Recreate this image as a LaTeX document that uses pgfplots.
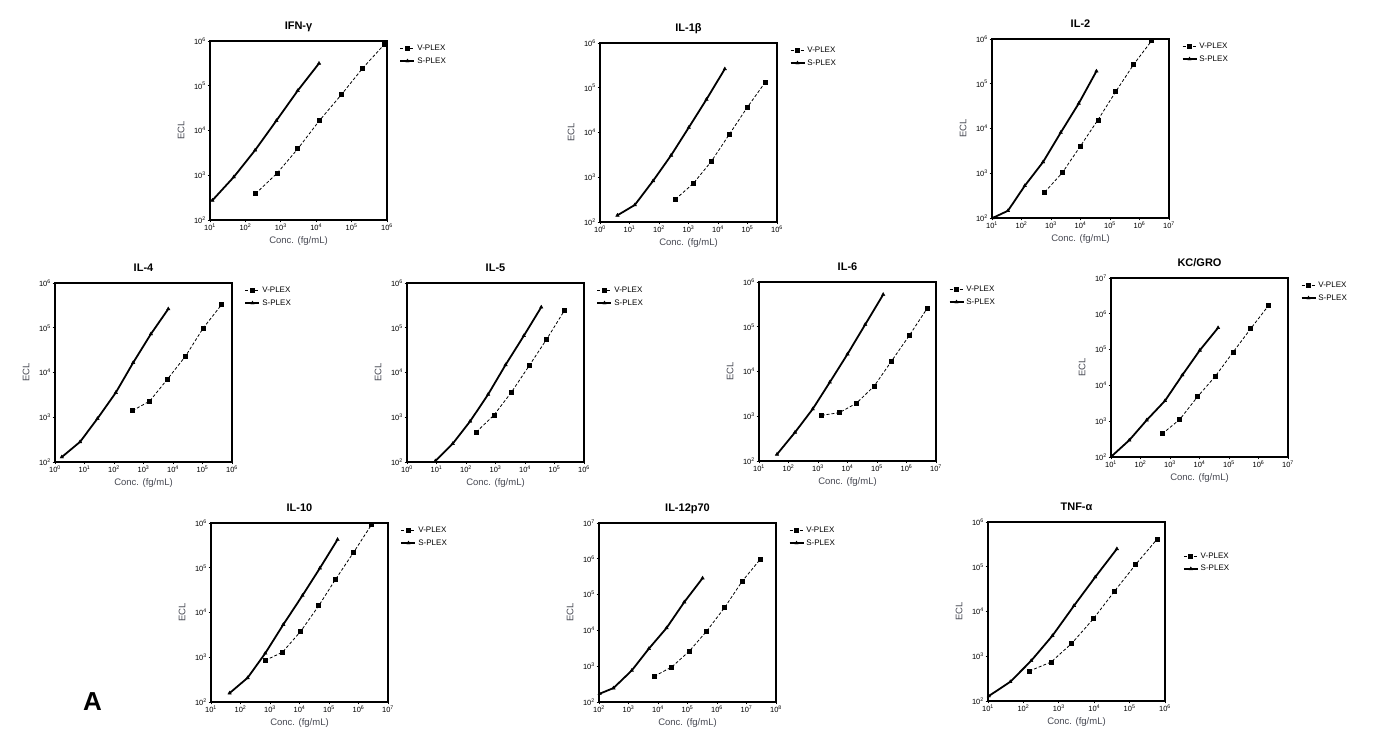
\documentclass[border=0pt]{standalone}
\usepackage{fontspec}
\setmainfont{Liberation Sans}
\usepackage{pgfplots}
\pgfplotsset{compat=1.18}
\newcommand{\E}[1]{10\textsuperscript{#1}}
\definecolor{lab}{RGB}{70,72,82}
\pgfplotsset{
 panel/.style={scale only axis, width=177pt, height=179pt,
  xminorticks=false, yminorticks=false, tick align=outside, tick pos=left,
  major tick length=2.5pt, axis line style={line width=1.2pt},
  every tick/.style={black, line width=0.8pt},
  tick label style={font=\fontsize{7.5}{7.5}\selectfont, inner sep=1.5pt},
  xlabel={Conc. (fg/mL)}, ylabel={ECL},
  every axis x label/.style={at={(axis description cs:0.5,0)},anchor=base,yshift=-24pt,font=\fontsize{9.5}{10}\selectfont,text=lab},
  every axis y label/.style={at={(axis description cs:-0.145,0.5)},rotate=90,anchor=base,font=\fontsize{9.5}{10}\selectfont,text=lab},
  title style={font=\bfseries\fontsize{11}{11}\selectfont, at={(axis description cs:0.5,1)}, anchor=base, yshift=5pt},
  clip=false, legend cell align=left,
  legend style={draw=none, fill=none, font=\fontsize{8}{9}\selectfont, anchor=north west, at={(axis description cs:1.07,0.99)}, inner sep=0pt, row sep=1.5pt},
  legend image code/.code={\draw[mark repeat=2,mark phase=2,##1] plot coordinates {(0pt,0pt) (7pt,0pt) (14pt,0pt)};},
 },
 yA/.style={ymin=1e2, ymax=1e6, ytick={1e2,1e3,1e4,1e5,1e6}, yticklabels={\E{2},\E{3},\E{4},\E{5},\E{6}}},
 yB/.style={ymin=1e2, ymax=1e7, ytick={1e2,1e3,1e4,1e5,1e6,1e7}, yticklabels={\E{2},\E{3},\E{4},\E{5},\E{6},\E{7}}},
 xA/.style={xmin=1e1, xmax=1e6, xtick={1e1,1e2,1e3,1e4,1e5,1e6}, xticklabels={\E{1},\E{2},\E{3},\E{4},\E{5},\E{6}}},
 xB/.style={xmin=1e0, xmax=1e6, xtick={1e0,1e1,1e2,1e3,1e4,1e5,1e6}, xticklabels={\E{0},\E{1},\E{2},\E{3},\E{4},\E{5},\E{6}}},
 xC/.style={xmin=1e1, xmax=1e7, xtick={1e1,1e2,1e3,1e4,1e5,1e6,1e7}, xticklabels={\E{1},\E{2},\E{3},\E{4},\E{5},\E{6},\E{7}}},
 xD/.style={xmin=1e2, xmax=1e8, xtick={1e2,1e3,1e4,1e5,1e6,1e7,1e8}, xticklabels={\E{2},\E{3},\E{4},\E{5},\E{6},\E{7},\E{8}}},
 vp/.style={black, line width=0.8pt, dash pattern=on 3pt off 2pt, mark=square*, mark size=2pt, mark options={solid}},
 sp/.style={black, line width=1.8pt, mark=triangle*, mark size=2pt, mark options={solid, line width=0.4pt}},
}
\begin{document}
\begin{tikzpicture}[x=1pt,y=1pt]
\useasboundingbox (0,0) rectangle (1381,749);
% IFN-gamma
\begin{loglogaxis}[panel, xA, yA, at={(210pt,529pt)}, anchor=south west, title={IFN-γ}]
\addplot[vp] coordinates {(195,389) (776,1100) (3020,3890) (12300,16600) (51300,63100) (204000,245000) (832000,832000)};
\addplot[sp] coordinates {(11.7,275) (46.9,912) (188,3630) (750,16600) (3000,77600) (12000,316000)};
\legend{V-PLEX,S-PLEX}
\end{loglogaxis}
% IL-1beta
\begin{loglogaxis}[panel, xB, yA, at={(600pt,527pt)}, anchor=south west, title={IL-1β}]
\addplot[vp] coordinates {(363,324) (1450,724) (5890,2240) (23700,8910) (95500,35500) (407000,135000)};
\addplot[sp] coordinates {(3.9,141) (15.1,240) (63.1,832) (257,3090) (1020,12900) (4070,55000) (17000,263000)};
\legend{V-PLEX,S-PLEX}
\end{loglogaxis}
% IL-2
\begin{loglogaxis}[panel, xC, yA, at={(992pt,531pt)}, anchor=south west, title={IL-2}]
\addplot[vp] coordinates {(617,380) (2400,1020) (9770,3980) (38900,15500) (155000,66100) (631000,269000) (2570000,912000)};
\addplot[sp] coordinates {(10.5,100) (34.7,145) (129,525) (537,1780) (2140,8130) (8710,36300) (34700,191000)};
\legend{V-PLEX,S-PLEX}
\end{loglogaxis}
% IL-4
\begin{loglogaxis}[panel, xB, yA, at={(55pt,287pt)}, anchor=south west, title={IL-4}]
\addplot[vp] coordinates {(427,1410) (1620,2290) (6460,7080) (26900,23400) (105000,97700) (437000,324000)};
\addplot[sp] coordinates {(1.7,129) (7.08,282) (27.5,933) (115,3550) (447,16600) (1780,72400) (6920,263000)};
\legend{V-PLEX,S-PLEX}
\end{loglogaxis}
% IL-5
\begin{loglogaxis}[panel, xB, yA, at={(407pt,287pt)}, anchor=south west, title={IL-5}]
\addplot[vp] coordinates {(224,468) (891,1120) (3470,3630) (13800,14100) (55000,56200) (219000,245000)};
\addplot[sp] coordinates {(9.1,105) (35.5,257) (138,813) (562,3240) (2190,14800) (9120,66100) (35500,288000)};
\legend{V-PLEX,S-PLEX}
\end{loglogaxis}
% IL-6
\begin{loglogaxis}[panel, xC, yA, at={(759pt,288pt)}, anchor=south west, title={IL-6}]
\addplot[vp] coordinates {(1320,1050) (5250,1200) (20000,1950) (79400,4680) (309000,17000) (1260000,64600) (5010000,257000)};
\addplot[sp] coordinates {(40.7,141) (166,437) (661,1450) (2510,5750) (10000,24500) (39800,112000) (162000,525000)};
\legend{V-PLEX,S-PLEX}
\end{loglogaxis}
% KC/GRO
\begin{loglogaxis}[panel, xC, yB, at={(1111pt,292pt)}, anchor=south west, title={KC/GRO}]
\addplot[vp] coordinates {(550,447) (2140,1120) (8510,4790) (34700,18200) (138000,85100) (550000,389000) (2190000,1700000)};
\addplot[sp] coordinates {(10.5,105) (41.7,295) (162,1070) (676,3720) (2630,19500) (10200,95500) (42700,407000)};
\legend{V-PLEX,S-PLEX}
\end{loglogaxis}
% IL-10
\begin{loglogaxis}[panel, xC, yA, at={(211pt,47pt)}, anchor=south west, title={IL-10}]
\addplot[vp] coordinates {(692,851) (2630,1290) (11000,3800) (44700,14100) (170000,56200) (692000,224000) (2750000,912000)};
\addplot[sp] coordinates {(42.7,158) (174,347) (692,1230) (2820,5370) (12600,24000) (49000,97700) (195000,427000)};
\legend{V-PLEX,S-PLEX}
\end{loglogaxis}
% IL-12p70
\begin{loglogaxis}[panel, xD, yB, at={(599pt,47pt)}, anchor=south west, title={IL-12p70}]
\addplot[vp] coordinates {(7590,525) (29500,955) (115000,2630) (447000,9550) (1820000,43700) (7080000,234000) (29500000,977000)};
\addplot[sp] coordinates {(105,170) (309,245) (1290,759) (4900,3090) (19500,11700) (77600,61700) (324000,288000)};
\legend{V-PLEX,S-PLEX}
\end{loglogaxis}
% TNF-alpha
\begin{loglogaxis}[panel, xA, yA, at={(988pt,48pt)}, anchor=south west, title={TNF-α}, legend style={at={(axis description cs:1.10,0.84)}}]
\addplot[vp] coordinates {(148,468) (603,741) (2340,1950) (9550,6920) (37200,28200) (148000,112000) (603000,417000)};
\addplot[sp] coordinates {(10.5,129) (42.7,269) (166,794) (661,2880) (2690,13500) (10700,58900) (43700,251000)};
\legend{V-PLEX,S-PLEX}
\end{loglogaxis}
\node[font=\bfseries\fontsize{26}{26}\selectfont, anchor=base] at (92.5,38) {A};
\end{tikzpicture}
\end{document}
